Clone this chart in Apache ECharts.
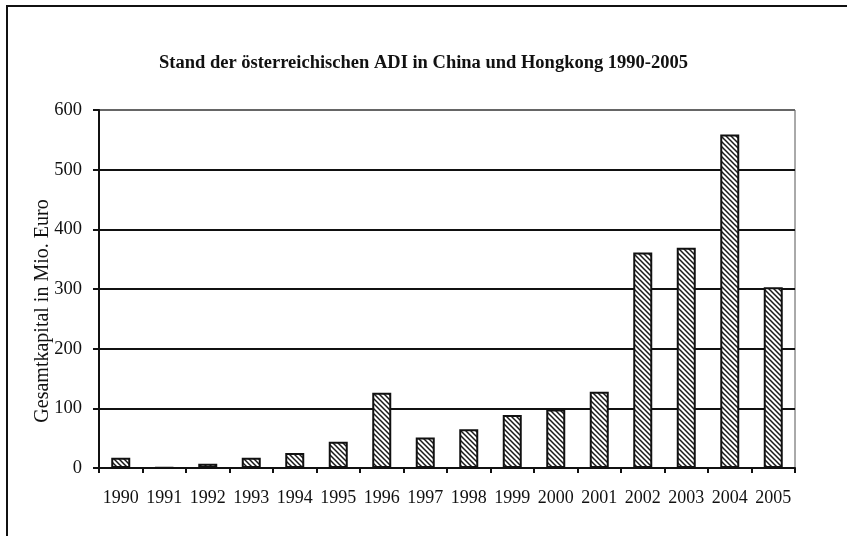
<!DOCTYPE html>
<html>
<head>
<meta charset="utf-8">
<script src="https://cdn.jsdelivr.net/npm/echarts@6/dist/echarts.min.js"></script>
<style>
html,body{margin:0;padding:0;background:#fff;}
#c{width:847px;height:536px;}
</style>
</head>
<body>
<div id="c"></div>
<script>
var titleText = "Stand der österreichischen ADI in China und Hongkong 1990-2005";
var yAxisTitle = "Gesamtkapital in Mio. Euro";
var years = ["1990","1991","1992","1993","1994","1995","1996","1997","1998","1999","2000","2001","2002","2003","2004","2005"];
var capital = [17, 1, 7, 17, 25, 44, 126, 51, 65, 89, 98, 128, 361, 369, 559, 303];
var yTicks = [0, 100, 200, 300, 400, 500, 600];

function hatch() {
  var s = 5;
  var cv = document.createElement('canvas');
  cv.width = s; cv.height = s;
  var ctx = cv.getContext('2d');
  ctx.fillStyle = '#fff';
  ctx.fillRect(0, 0, s, s);
  ctx.strokeStyle = '#1a1a1a';
  ctx.lineWidth = 1.5;
  ctx.beginPath();
  ctx.moveTo(-1, -1); ctx.lineTo(s + 1, s + 1);
  ctx.moveTo(-1, s - 1); ctx.lineTo(1, s + 1);
  ctx.moveTo(s - 1, -1); ctx.lineTo(s + 1, 1);
  ctx.stroke();
  return cv;
}

var font = "'Liberation Serif', 'DejaVu Serif', serif";
var chart = echarts.init(document.getElementById('c'), null, {renderer: 'canvas'});
chart.setOption({
  animation: false,
  backgroundColor: '#fff',
  title: {
    text: titleText,
    left: 'center',
    top: 49,
    textStyle: {fontFamily: font, fontSize: 18.5, fontWeight: 'bold', color: '#111'}
  },
  graphic: [{
    type: 'rect',
    shape: {x: 7, y: 6, width: 900, height: 600},
    style: {fill: 'none', stroke: '#111', lineWidth: 2},
    silent: true
  }],
  grid: {
    left: 99, top: 110, right: 52, bottom: 68,
    show: true, borderColor: '#555', borderWidth: 1, backgroundColor: 'transparent'
  },
  xAxis: {
    type: 'category',
    data: years,
    axisLine: {show: true, lineStyle: {color: '#111', width: 2}},
    axisTick: {show: true, alignWithLabel: false, length: 5, lineStyle: {color: '#111', width: 2}},
    axisLabel: {fontFamily: font, fontSize: 18, color: '#111', margin: 21, interval: 0}
  },
  yAxis: {
    type: 'value',
    min: yTicks[0],
    max: yTicks[yTicks.length - 1],
    interval: 100,
    name: yAxisTitle,
    nameLocation: 'middle',
    nameGap: 46,
    nameMoveOverlap: false,
    nameTextStyle: {fontFamily: font, fontSize: 20, color: '#111', padding: [0, 44, 0, 0]},
    axisLine: {show: true, lineStyle: {color: '#111', width: 2}},
    axisTick: {show: true, length: 6, lineStyle: {color: '#111', width: 2}},
    axisLabel: {fontFamily: font, fontSize: 18.5, color: '#111', margin: 17},
    splitLine: {show: true, lineStyle: {color: ['#111','#111','#111','#111','#111','#111','#666'], width: 2}}
  },
  series: [{
    type: 'bar',
    data: capital,
    barWidth: 19,
    itemStyle: {
      color: {image: hatch(), repeat: 'repeat'},
      borderColor: '#111',
      borderWidth: 2
    }
  }]
});
</script>
</body>
</html>
